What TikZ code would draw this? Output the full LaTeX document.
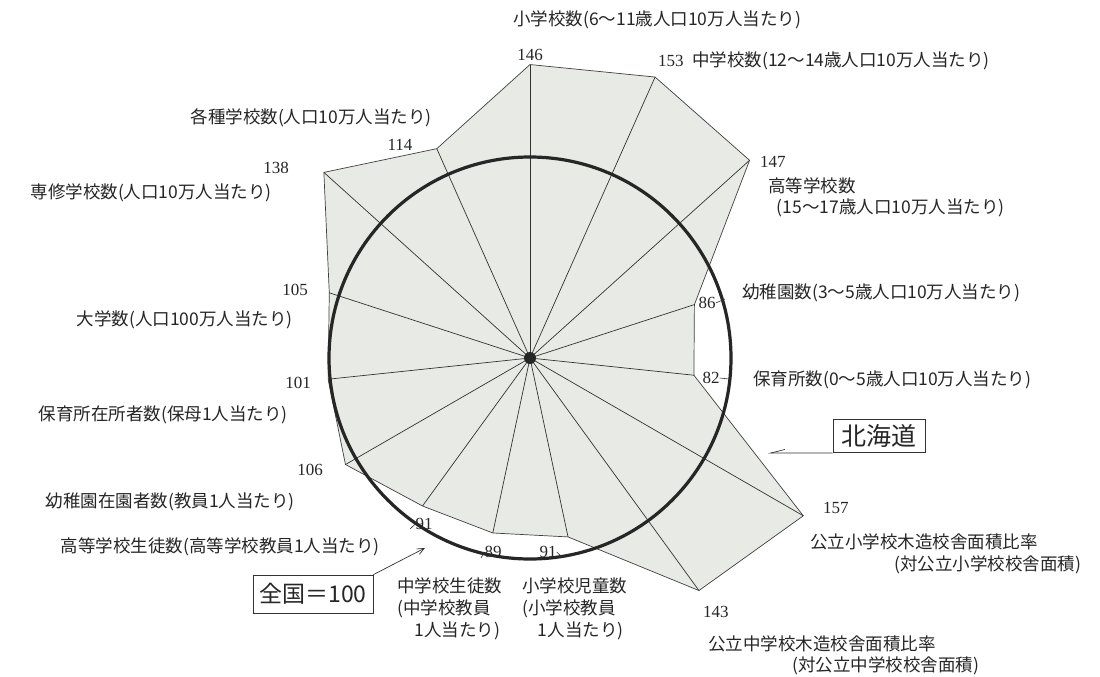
\documentclass[tikz,border=0pt]{standalone}
\usepackage{fontspec}
\setmainfont{Liberation Serif}
\newfontfamily\jpfont{Noto Sans CJK JP}
\usetikzlibrary{arrows.meta}
\definecolor{areagray}{RGB}{231,234,229}
\newcommand*{\xCen}{530}
\newcommand*{\yCen}{358}
\newcommand*{\rUnit}{2.01}

\begin{document}
\begin{tikzpicture}[x=1pt,y=-1pt,
  spoke/.style={draw=black!80,line width=0.7pt},
  ring/.style={draw=black!85,line width=3.2pt},
  area/.style={fill=areagray,draw=black!75,line width=0.7pt},
  lab/.style={font=\jpfont\fontsize{17.5}{22}\selectfont,inner sep=0pt,text=black!85,align=left},
  val/.style={font=\fontsize{17}{20}\selectfont,inner sep=0pt,text=black!85},
  tick/.style={draw=black!80,line width=0.6pt},
  tag/.style={draw=black!80,line width=0.8pt,inner sep=0pt,text=black!85},
  leader/.style={draw=black!80,line width=0.7pt}]
	\fill[white] (0,0) rectangle (1100,677);
	\useasboundingbox (0,0) rectangle (1100,677);
	\begin{scope}[shift={(\xCen,\yCen)}]
	\coordinate (c) at (0,0);
	\foreach \v [count=\i from 0] in {146,153,147,86,82,157,143,91,89,91,106,101,105,138,114}
	    \coordinate (v\i) at ({\i*24-90}:{\v*\rUnit});
	\end{scope}
	\filldraw[area] (v0) \foreach \i in {1,...,14}{ -- (v\i)} -- cycle;
	\foreach \i in {0,...,14} \draw[spoke] (c) -- (v\i);
	\draw[ring] (c) circle[radius=201pt];
	\fill[black!85] (c) circle[radius=6pt];
	% values
	\node[val] (num0) at (530,55) {146};
	\node[val,anchor=west] (num1) at (658,61) {153};
	\node[val,anchor=west] (num2) at (760,162) {147};
	\node[val] (num3) at (707,303) {86};
	\node[val] (num4) at (711,378) {82};
	\node[val,anchor=west] (num5) at (823,508) {157};
	\node[val,anchor=west] (num6) at (703,612) {143};
	\node[val] (num7) at (548,552) {91};
	\node[val] (num8) at (493,552) {89};
	\node[val] (num9) at (424,524) {91};
	\node[val] (num10) at (310,470) {106};
	\node[val] (num11) at (298,383) {101};
	\node[val] (num12) at (295,290) {105};
	\node[val] (num13) at (276,168) {138};
	\node[val] (num14) at (400,145) {114};
	\coordinate (t3) at (725,299);
	\coordinate (t4) at (729,379);
	\coordinate (t7) at (562,557);
	\coordinate (t8) at (481,558);
	\coordinate (t9) at (410,529);
	\draw[tick] (num3.east) -- (t3);
	\draw[tick] (num4.east) -- (t4);
	\draw[tick] (num7.east) -- (t7);
	\draw[tick] (num8.west) -- (t8);
	\draw[tick] (num9.west) -- (t9);
	% axis names
	\node[lab,anchor=west] (lab0) at (513,20) {小学校数(6～11歳人口10万人当たり)};
	\node[lab,anchor=west] (lab1) at (692,61) {中学校数(12～14歳人口10万人当たり)};
	\node[lab,anchor=north west,font=\jpfont\fontsize{17.5}{21}\selectfont] (lab2) at (768,178) {高等学校数\\\hspace*{0.5em}(15～17歳人口10万人当たり)};
	\node[lab,anchor=west] (lab3) at (742,293) {幼稚園数(3～5歳人口10万人当たり)};
	\node[lab,anchor=west] (lab4) at (753,380) {保育所数(0～5歳人口10万人当たり)};
	\node[lab,anchor=north west] (lab5) at (810,534) {公立小学校木造校舎面積比率\\\hspace*{4.8em}(対公立小学校校舎面積)};
	\node[lab,anchor=north west,font=\jpfont\fontsize{17.5}{21}\selectfont] (lab6) at (708,636) {公立中学校木造校舎面積比率\\\hspace*{4.8em}(対公立中学校校舎面積)};
	\node[lab,anchor=north west] (lab7) at (522,578) {小学校児童数\\(小学校教員\\\hspace*{0.9em}1人当たり)};
	\node[lab,anchor=north west] (lab8) at (397,578) {中学校生徒数\\(中学校教員\\\hspace*{1em}1人当たり)};
	\node[lab,anchor=east] (lab9) at (380,547) {高等学校生徒数(高等学校教員1人当たり)};
	\node[lab,anchor=east] (lab10) at (295,502) {幼稚園在園者数(教員1人当たり)};
	\node[lab,anchor=east] (lab11) at (288,415) {保育所在所者数(保母1人当たり)};
	\node[lab,anchor=east] (lab12) at (293,320) {大学数(人口100万人当たり)};
	\node[lab,anchor=east] (lab13) at (272,193) {専修学校数(人口10万人当たり)};
	\node[lab,anchor=east] (lab14) at (432,118) {各種学校数(人口10万人当たり)};
	% callouts
	\node[tag,minimum width=92pt,minimum height=33pt,font=\jpfont\fontsize{25}{25}\selectfont] (hok) at (879,436) {北海道};
	\coordinate (hokend) at (768,453);
	\draw[leader,-{Straight Barb[harpoon,swap,length=14pt,width=7pt]}] (hok.south west) -- (hokend);
	\node[tag,minimum width=120pt,minimum height=38pt,font=\jpfont\fontsize{23}{23}\selectfont] (zen) at (313,594) {全国＝100};
	\coordinate (zenend) at (425,548);
	\draw[leader,-{Straight Barb[length=7pt,width=6pt]}] (zen.north east) -- (zenend);
\end{tikzpicture}
\end{document}
